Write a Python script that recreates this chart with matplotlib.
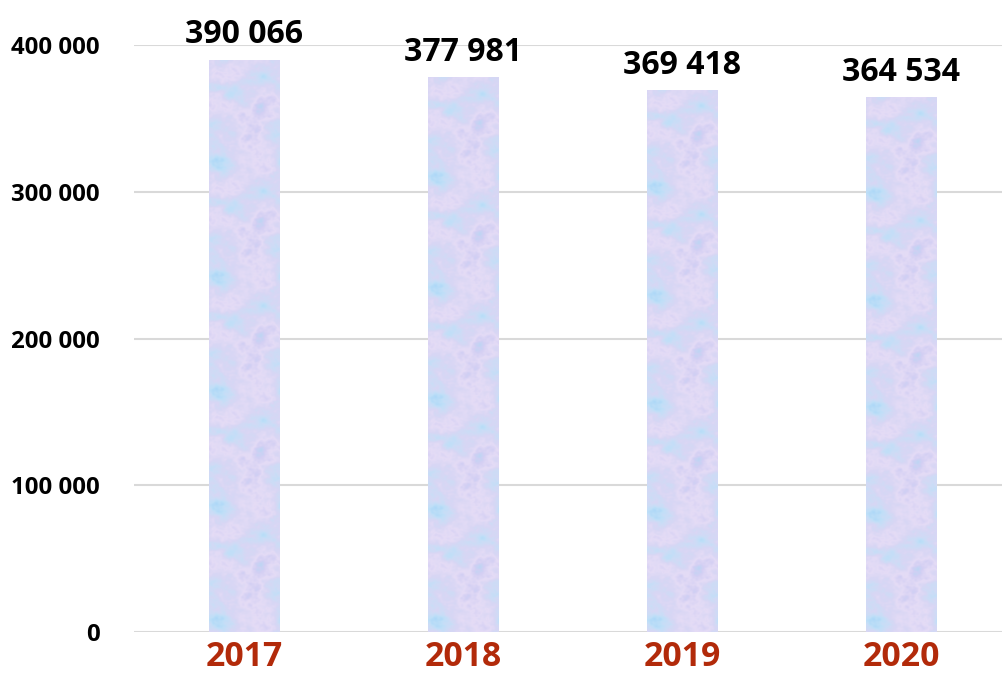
import numpy as np
import matplotlib
matplotlib.use("Agg")
import matplotlib.pyplot as plt
from matplotlib.colors import LinearSegmentedColormap

years = ["2017", "2018", "2019", "2020"]
values = [390066, 377981, 369418, 364534]
value_labels = ["390 066", "377 981", "369 418", "364 534"]
y_ticks = [0, 100000, 200000, 300000, 400000]
y_tick_labels = ["0", "100 000", "200 000", "300 000", "400 000"]

FONT = "Open Sans"

fig = plt.figure(figsize=(10.02, 6.84), dpi=100)
ax = fig.add_axes([0.1342, 0.0760, 0.8743, 0.8582])

x = np.arange(len(years))
bar_w = 0.32
bars = ax.bar(x, values, width=bar_w, color="none", edgecolor="none", zorder=3)


def periodic_smooth(shape, sigma, rng):
    """Seamless smooth noise via Gaussian filtering in frequency space."""
    n = rng.standard_normal(shape)
    fy = np.fft.fftfreq(shape[0])[:, None]
    fx = np.fft.fftfreq(shape[1])[None, :]
    g = np.exp(-2 * (np.pi * sigma) ** 2 * (fx ** 2 + fy ** 2))
    out = np.real(np.fft.ifft2(np.fft.fft2(n) * g))
    return (out - out.min()) / (out.max() - out.min())


# Soft marbled fill for the bars
rng = np.random.default_rng(11)
tile = (0.55 * periodic_smooth((140, 70), 9, rng)
        + 0.3 * periodic_smooth((140, 70), 3, rng)
        + 0.15 * periodic_smooth((140, 70), 1, rng))
tile = (tile - tile.min()) / (tile.max() - tile.min())
texture = np.tile(tile, (5, 1))
marble = LinearSegmentedColormap.from_list(
    "marble", ["#aed8f7", "#bfdff8", "#cddcf6", "#d8d6f4", "#e5dcf6", "#d3cff3", "#bfd5f4"])

for b in bars:
    x0, w, h = b.get_x(), b.get_width(), b.get_height()
    im = ax.imshow(texture, cmap=marble, extent=[x0, x0 + w, 0, h],
                   aspect="auto", interpolation="bilinear", zorder=3, origin="lower")
    im.set_clip_path(b)

for xi, v, lab in zip(x, values, value_labels):
    ax.annotate(lab, (xi, v), xytext=(0, 6), textcoords="offset points",
                ha="center", va="bottom", fontsize=23, fontweight="bold",
                family=FONT, color="black", zorder=4)

ax.set_xlim(-0.5, len(years) - 0.5)
ax.set_ylim(0, 400000)
ax.set_yticks(y_ticks)
ax.set_yticklabels(y_tick_labels, fontsize=17.3, fontweight="bold", family=FONT)
ax.set_xticks(x)
ax.set_xticklabels(years, fontsize=24.3, fontweight="bold", family=FONT, color="#b22a0a")
ax.tick_params(axis="y", length=0, pad=25)
ax.tick_params(axis="x", length=0, pad=6)
ax.yaxis.grid(True, color="#d9d9d9", linewidth=1.5, zorder=0)
for s in ax.spines.values():
    s.set_visible(False)
ax.set_axisbelow(True)

fig.savefig("out.png", dpi=100)
